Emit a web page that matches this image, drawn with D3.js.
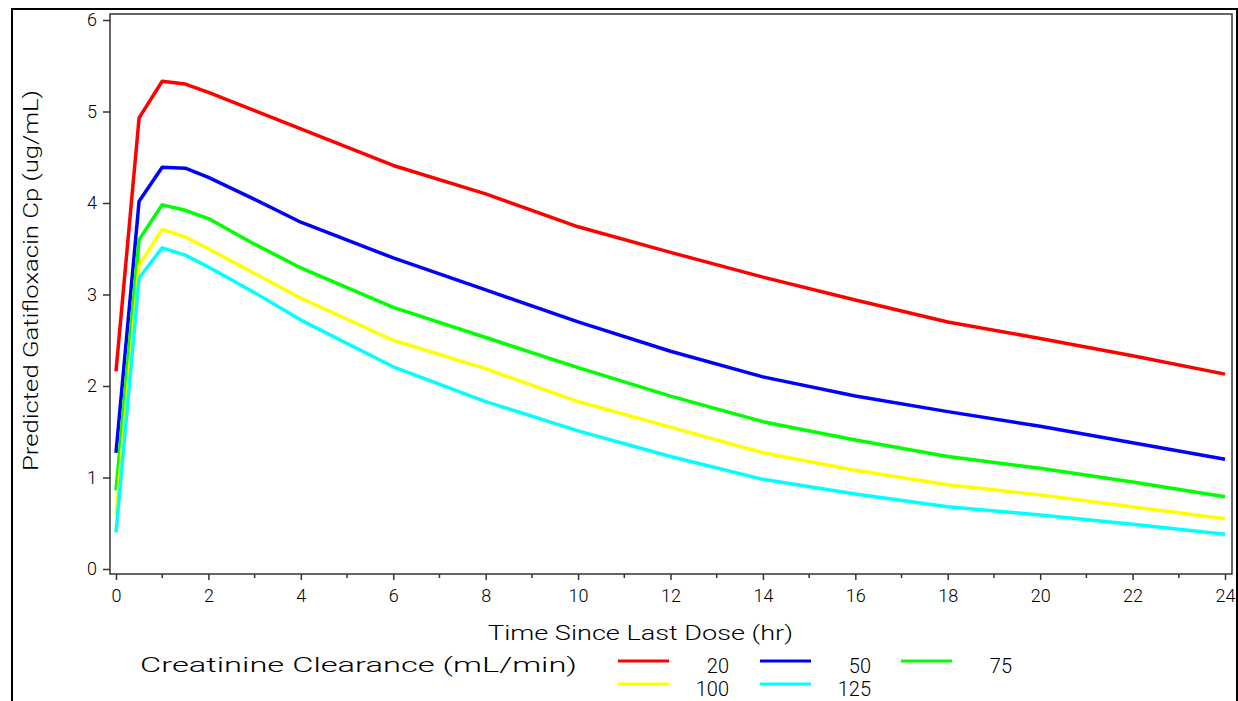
<!DOCTYPE html>
<html>
<head>
<meta charset="utf-8">
<script src="https://cdn.jsdelivr.net/npm/d3@7"></script>
<style>
  html, body { margin: 0; padding: 0; background: #fff; }
  svg { display: block; }
  text { font-family: Roboto, "DejaVu Sans", sans-serif; font-weight: 300; fill: #000; }
</style>
</head>
<body>
<div id="chart"></div>
<script>
// hours since last dose
const times = [0, 0.5, 1, 1.5, 2, 3, 4, 6, 8, 10, 12, 14, 16, 18, 20, 22, 24];

// predicted Cp (ug/mL), one list per creatinine clearance group
const cp20  = [2.16, 4.93, 5.33, 5.30, 5.21, 5.01, 4.81, 4.41, 4.10, 3.74, 3.46, 3.19, 2.94, 2.70, 2.52, 2.33, 2.13];
const cp50  = [1.27, 4.02, 4.39, 4.38, 4.28, 4.04, 3.79, 3.40, 3.05, 2.70, 2.38, 2.10, 1.89, 1.72, 1.56, 1.38, 1.20];
const cp75  = [0.86, 3.60, 3.98, 3.92, 3.83, 3.55, 3.29, 2.86, 2.53, 2.20, 1.89, 1.61, 1.41, 1.23, 1.10, 0.95, 0.79];
const cp100 = [0.59, 3.32, 3.71, 3.63, 3.50, 3.23, 2.96, 2.50, 2.19, 1.83, 1.55, 1.27, 1.08, 0.92, 0.81, 0.68, 0.55];
const cp125 = [0.40, 3.18, 3.51, 3.43, 3.30, 3.02, 2.72, 2.21, 1.83, 1.51, 1.23, 0.98, 0.82, 0.68, 0.59, 0.49, 0.38];

const groups = ["20", "50", "75", "100", "125"];
const colors = ["#ff0000", "#0000ff", "#00ff00", "#ffff00", "#00ffff"];
const seriesValues = [cp20, cp50, cp75, cp100, cp125];

const xTicks = d3.range(0, 25, 2);
const xMinorTicks = d3.range(1, 24, 2);
const yTicks = [0, 1, 2, 3, 4, 5, 6];

const WIDTH = 1238;
const HEIGHT = 701;
const frame = { left: 110, top: 14, right: 1232, bottom: 574 };

const svg = d3.select("#chart").append("svg")
    .attr("width", WIDTH)
    .attr("height", HEIGHT);

// outer border
svg.append("rect")
    .attr("x", 12).attr("y", 9)
    .attr("width", WIDTH - 13).attr("height", HEIGHT + 20)
    .attr("fill", "none")
    .attr("stroke", "#000")
    .attr("stroke-width", 2);

const x = d3.scaleLinear().domain([0, 24]).range([116, 1225]);
const y = d3.scaleLinear().domain([0, 6]).range([569, 20]);

// plot frame
svg.append("rect")
    .attr("x", frame.left).attr("y", frame.top)
    .attr("width", frame.right - frame.left)
    .attr("height", frame.bottom - frame.top)
    .attr("fill", "none")
    .attr("stroke", "#333")
    .attr("stroke-width", 1.5);

// x axis
const xAxis = svg.append("g")
    .attr("transform", "translate(0," + frame.bottom + ")")
    .call(d3.axisBottom(x).tickValues(xTicks).tickSize(6).tickPadding(9).tickFormat(d3.format("d")));
xAxis.select(".domain").remove();
xAxis.selectAll("line").attr("stroke", "#333").attr("stroke-width", 1.5);
xAxis.selectAll("text").style("font-size", "18px").attr("fill", "#000");

svg.append("g")
    .attr("transform", "translate(0," + frame.bottom + ")")
    .selectAll("line")
    .data(xMinorTicks)
    .join("line")
        .attr("x1", d => x(d)).attr("x2", d => x(d))
        .attr("y1", 0).attr("y2", 4)
        .attr("stroke", "#333").attr("stroke-width", 1.5);

// y axis
const yAxis = svg.append("g")
    .attr("transform", "translate(" + frame.left + ",0)")
    .call(d3.axisLeft(y).tickValues(yTicks).tickSize(7).tickPadding(6).tickFormat(d3.format("d")));
yAxis.select(".domain").remove();
yAxis.selectAll("line").attr("stroke", "#333").attr("stroke-width", 1.5);
yAxis.selectAll("text").style("font-size", "18px").attr("fill", "#000");

// axis titles
svg.append("text")
    .attr("x", 488).attr("y", 640)
    .attr("textLength", 305).attr("lengthAdjust", "spacingAndGlyphs")
    .style("font-size", "20px")
    .text("Time Since Last Dose (hr)");

svg.append("text")
    .attr("transform", "translate(38,471) rotate(-90)")
    .attr("textLength", 381).attr("lengthAdjust", "spacingAndGlyphs")
    .style("font-size", "20px")
    .text("Predicted Gatifloxacin Cp (ug/mL)");

// curves
const line = d3.line()
    .x((d, i) => x(times[i]))
    .y(d => y(d));

svg.append("g")
    .selectAll("path")
    .data(seriesValues)
    .join("path")
        .attr("d", line)
        .attr("fill", "none")
        .attr("stroke", (d, i) => colors[i])
        .attr("stroke-width", 3.5)
        .attr("stroke-linejoin", "round");

// legend
svg.append("text")
    .attr("x", 140).attr("y", 672)
    .attr("textLength", 437).attr("lengthAdjust", "spacingAndGlyphs")
    .style("font-size", "20px")
    .text("Creatinine Clearance (mL/min)");

const legendCols = [618, 760, 901];
const legendRows = [661, 684];
const legend = svg.append("g")
    .selectAll("g")
    .data(groups)
    .join("g")
        .attr("transform", (d, i) => "translate(" + legendCols[i % 3] + "," + legendRows[Math.floor(i / 3)] + ")");

legend.append("line")
    .attr("x1", 0).attr("x2", 51)
    .attr("stroke", (d, i) => colors[i])
    .attr("stroke-width", 3);

legend.append("text")
    .attr("x", 111).attr("y", 12)
    .attr("text-anchor", "end")
    .style("font-size", "20px")
    .text(d => d);
</script>
</body>
</html>
